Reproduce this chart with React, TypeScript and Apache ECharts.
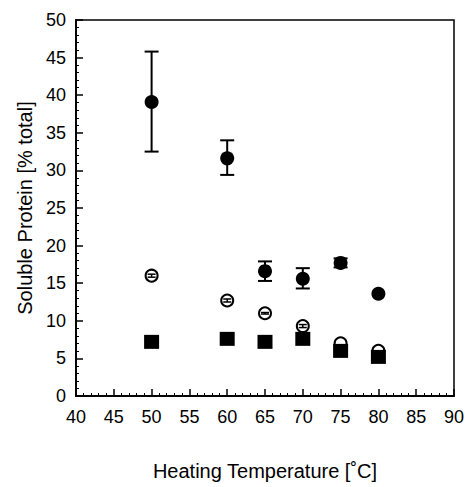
import React, { useEffect, useRef } from "react";
import * as echarts from "echarts";

const temps = [50, 60, 65, 70, 75, 80];
const filledCircle = [39.1, 31.6, 16.6, 15.6, 17.7, 13.6];
const filledCircleLow = [32.5, 29.4, 15.3, 14.3, 17.1, 13.6];
const filledCircleHigh = [45.8, 34.0, 17.9, 17.0, 18.3, 13.6];
const openCircle = [16.0, 12.7, 11.0, 9.3, 7.0, 6.0];
const openCircleLow = [15.8, 12.5, 10.9, 9.1, 7.0, 6.0];
const openCircleHigh = [16.2, 12.9, 11.1, 9.5, 7.0, 6.0];
const filledSquare = [7.2, 7.6, 7.2, 7.6, 6.0, 5.2];
const xTicks = [40, 45, 50, 55, 60, 65, 70, 75, 80, 85, 90];
const yTicks = [0, 5, 10, 15, 20, 25, 30, 35, 40, 45, 50];

const FONT = "Liberation Sans";

function errData(lo: number[], hi: number[]) {
  return temps.map((t, i) => [t, lo[i], hi[i]]);
}

function errRender(capHalf: number, lw: number) {
  return (params: any, api: any) => {
    const x = api.value(0);
    const lo = api.coord([x, api.value(1)]);
    const hi = api.coord([x, api.value(2)]);
    if (Math.abs(lo[1] - hi[1]) < 0.5) return { type: "group", children: [] };
    const style = { stroke: "#000", lineWidth: lw };
    return {
      type: "group",
      children: [
        { type: "line", shape: { x1: lo[0], y1: lo[1], x2: hi[0], y2: hi[1] }, style },
        { type: "line", shape: { x1: lo[0] - capHalf, y1: lo[1], x2: lo[0] + capHalf, y2: lo[1] }, style },
        { type: "line", shape: { x1: hi[0] - capHalf, y1: hi[1], x2: hi[0] + capHalf, y2: hi[1] }, style },
      ],
    };
  };
}

export default function App() {
  const ref = useRef<HTMLDivElement>(null);
  useEffect(() => {
    if (!ref.current) return;
    const chart = echarts.init(ref.current, undefined, { renderer: "svg" });
    chart.setOption({
      animation: false,
      backgroundColor: "#fff",
      grid: {
        left: 76,
        top: 20,
        right: 17,
        bottom: 90,
        show: true,
        borderColor: "#000",
        borderWidth: 1.5,
        containLabel: false,
      },
      xAxis: {
        type: "value",
        min: xTicks[0],
        max: xTicks[xTicks.length - 1],
        interval: 5,
        name: "Heating Temperature [˚C]",
        nameLocation: "middle",
        nameGap: 64,
        nameTextStyle: { fontFamily: FONT, fontSize: 20, color: "#000", lineHeight: 22 },
        axisLine: { show: true, lineStyle: { color: "#000", width: 2 } },
        axisTick: { show: true, inside: true, length: 7, lineStyle: { color: "#000", width: 1.5 } },
        minorTick: { show: true, splitNumber: 5, length: 3, lineStyle: { color: "#000", width: 1 } },
        splitLine: { show: false },
        axisLabel: { fontFamily: FONT, fontSize: 18, color: "#000", margin: 12 },
      },
      yAxis: {
        type: "value",
        min: yTicks[0],
        max: yTicks[yTicks.length - 1],
        interval: 5,
        name: "Soluble Protein [% total]",
        nameLocation: "middle",
        nameGap: 39,
        nameTextStyle: { fontFamily: FONT, fontSize: 20, color: "#000" },
        axisLine: { show: true, lineStyle: { color: "#000", width: 2 } },
        axisTick: { show: true, inside: true, length: 7, lineStyle: { color: "#000", width: 1.5 } },
        minorTick: { show: true, splitNumber: 5, length: 3, lineStyle: { color: "#000", width: 1 } },
        splitLine: { show: false },
        axisLabel: { fontFamily: FONT, fontSize: 18, color: "#000", margin: 10 },
      },
      series: [
        {
          type: "custom",
          renderItem: errRender(7, 2),
          data: errData(filledCircleLow, filledCircleHigh),
          z: 2,
        },
        {
          type: "scatter",
          data: temps.map((t, i) => [t, filledCircle[i]]),
          symbol: "circle",
          symbolSize: 14,
          itemStyle: { color: "#000", opacity: 1 },
          z: 3,
        },
        {
          type: "scatter",
          data: temps.map((t, i) => [t, openCircle[i]]),
          symbol: "circle",
          symbolSize: 12,
          itemStyle: { color: "#fff", borderColor: "#000", borderWidth: 2, opacity: 1 },
          z: 4,
        },
        {
          type: "custom",
          renderItem: errRender(4, 1.5),
          data: errData(openCircleLow, openCircleHigh),
          z: 5,
        },
        {
          type: "scatter",
          data: temps.map((t, i) => [t, filledSquare[i]]),
          symbol: "rect",
          symbolSize: [15, 14],
          itemStyle: { color: "#000", opacity: 1 },
          z: 6,
        },
      ],
    });
    return () => chart.dispose();
  }, []);
  return (
    <div
      ref={ref}
      style={{ position: "fixed", top: 0, left: 0, width: 471, height: 487, overflow: "hidden" }}
    />
  );
}
